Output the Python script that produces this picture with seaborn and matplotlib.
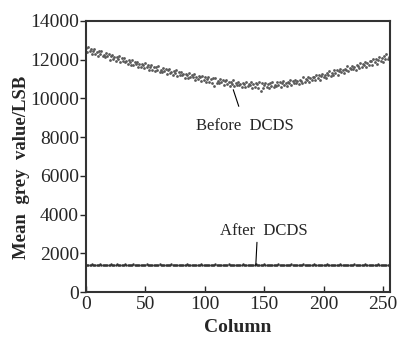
import numpy as np
import matplotlib
matplotlib.use('Agg')
import matplotlib.pyplot as plt
import seaborn as sns
import pandas as pd

# mean grey value per column
before_dcds = [
    12610, 12410, 12660, 12450, 12560, 12280, 12450, 12540, 12300, 12410, 12200, 12440, 12280, 12460, 12170, 12260,
    12150, 12350, 12190, 12280, 12000, 12200, 12250, 12050, 12130, 11950, 12140, 12030, 12190, 11900, 12070, 11940,
    12080, 11890, 11955, 11770, 11970, 11885, 11745, 12000, 11750, 11855, 11765, 11900, 11600, 11775, 11625, 11800,
    11750, 11555, 11810, 11605, 11720, 11445, 11620, 11715, 11485, 11600, 11395, 11640, 11485, 11670, 11385, 11480,
    11380, 11585, 11425, 11520, 11245, 11445, 11500, 11305, 11385, 11210, 11405, 11295, 11460, 11175, 11345, 11220,
    11370, 11185, 11255, 11070, 11280, 11195, 11065, 11320, 11080, 11185, 11105, 11240, 10950, 11125, 10985, 11160,
    11110, 10920, 11175, 10975, 11095, 10825, 11000, 11100, 10870, 10990, 10785, 11035, 10615, 11075, 10790, 10890,
    10790, 11000, 10845, 10945, 10675, 10875, 10940, 10750, 10830, 10660, 10865, 10755, 10925, 10645, 10820, 10700,
    10850, 10675, 10755, 10580, 10795, 10725, 10600, 10865, 10635, 10750, 10675, 10825, 10540, 10725, 10595, 10780,
    10740, 10560, 10835, 10385, 10775, 10515, 10710, 10820, 10600, 10730, 10545, 10805, 10665, 10865, 10600, 10710,
    10630, 10855, 10715, 10830, 10580, 10795, 10875, 10700, 10800, 10645, 10865, 10770, 10960, 10695, 10885, 10780,
    10950, 10795, 10885, 10730, 10965, 10905, 10800, 11085, 10865, 11000, 10945, 11105, 10840, 11045, 10925, 11130,
    11110, 10945, 11230, 11055, 11200, 10955, 11160, 11285, 11085, 11230, 11055, 11330, 11205, 11420, 11165, 11290,
    11220, 11455, 11320, 11450, 11205, 11430, 11515, 11350, 11460, 11315, 11540, 11455, 11650, 11400, 11595, 11500,
    11680, 11530, 11625, 11475, 11710, 11660, 11560, 11845, 11635, 11770, 11720, 11890, 11625, 11835, 11720, 11930,
    11910, 11750, 12040, 11870, 12020, 11780, 11990, 12120, 11920, 12070, 11900, 12180, 12060, 12280, 12030, 12160,
]
after_dcds = [
    1400, 1420, 1390, 1410, 1380, 1430, 1400, 1390, 1420, 1410, 1380, 1400, 1430, 1390, 1410, 1400,
    1420, 1380, 1400, 1410, 1390, 1430, 1400, 1420, 1390, 1410, 1440, 1400, 1380, 1410, 1420, 1390,
    1400, 1430, 1410, 1390, 1420, 1400, 1380, 1410, 1430, 1400, 1390, 1420, 1410, 1400, 1380, 1420,
    1410, 1390, 1400, 1430, 1400, 1410, 1390, 1420, 1400, 1380, 1410, 1420, 1400, 1390, 1430, 1410,
    1400, 1420, 1390, 1400, 1410, 1380, 1420, 1400, 1430, 1390, 1410, 1400, 1420, 1390, 1400, 1410,
    1380, 1420, 1400, 1410, 1390, 1430, 1400, 1410, 1420, 1390, 1400, 1380, 1410, 1420, 1400, 1390,
    1410, 1430, 1400, 1390, 1420, 1400, 1410, 1380, 1400, 1420, 1390, 1410, 1400, 1430, 1390, 1410,
    1400, 1420, 1380, 1400, 1410, 1390, 1420, 1400, 1430, 1410, 1390, 1400, 1420, 1380, 1410, 1400,
    1390, 1420, 1400, 1410, 1430, 1390, 1400, 1420, 1410, 1380, 1400, 1390, 1420, 1410, 1400, 1430,
    1390, 1400, 1410, 1420, 1380, 1400, 1430, 1390, 1410, 1400, 1420, 1390, 1400, 1410, 1380, 1420,
    1400, 1390, 1430, 1410, 1400, 1420, 1390, 1400, 1410, 1380, 1420, 1400, 1390, 1430, 1410, 1400,
    1420, 1390, 1400, 1410, 1380, 1400, 1420, 1430, 1390, 1410, 1400, 1420, 1380, 1400, 1410, 1390,
    1430, 1400, 1410, 1390, 1420, 1400, 1380, 1410, 1420, 1400, 1390, 1430, 1400, 1410, 1390, 1420,
    1400, 1380, 1410, 1420, 1400, 1390, 1430, 1410, 1400, 1420, 1390, 1400, 1410, 1380, 1420, 1400,
    1390, 1410, 1430, 1400, 1420, 1390, 1400, 1410, 1380, 1420, 1400, 1430, 1390, 1410, 1400, 1420,
    1390, 1400, 1410, 1380, 1420, 1400, 1430, 1390, 1410, 1400, 1420, 1390, 1400, 1410, 1400, 1420,
]
columns = list(range(len(before_dcds)))

df = pd.DataFrame({'column': columns, 'before': before_dcds, 'after': after_dcds})

sns.set_style('ticks')
plt.rcParams['font.family'] = ['Liberation Serif', 'DejaVu Serif']

fig = plt.figure(figsize=(3.98, 3.38), dpi=100)
ax = fig.add_axes([0.216, 0.136, 0.764, 0.802])

sns.scatterplot(data=df, x='column', y='before', ax=ax, s=4, color='#5a5a5a', linewidth=0)
sns.scatterplot(data=df, x='column', y='after', ax=ax, s=3, color='#333333', linewidth=0)

ax.set_xlim(0, 256)
ax.set_ylim(0, 14000)
ax.set_xticks([0, 50, 100, 150, 200, 250])
ax.set_yticks(range(0, 14001, 2000))
ax.tick_params(axis='x', direction='in', length=4, width=1, labelsize=14, pad=3)
ax.tick_params(axis='y', direction='out', length=4, width=1, labelsize=14, pad=1)
for s in ax.spines.values():
    s.set_visible(True)
    s.set_linewidth(1.5)
    s.set_color('#333333')

ax.set_xlabel('Column', fontsize=14, fontweight='bold')
ax.xaxis.set_label_coords(0.5, -0.1)
ax.set_ylabel('Mean  grey  value/LSB', fontsize=13.5, fontweight='bold')
ax.yaxis.set_label_coords(-0.185, 0.46)

ax.annotate('Before  DCDS', xy=(124, 10450), xytext=(134, 8600), fontsize=12,
            ha='center', va='center', arrowprops=dict(arrowstyle='-', color='black', lw=0.8, shrinkA=6, shrinkB=0))
ax.annotate('After  DCDS', xy=(143, 1400), xytext=(150, 3150), fontsize=12,
            ha='center', va='center', arrowprops=dict(arrowstyle='-', color='black', lw=0.8, shrinkA=0, shrinkB=0,
                                                      relpos=(0.42, 0)))

fig.savefig('out.png', dpi=100)
